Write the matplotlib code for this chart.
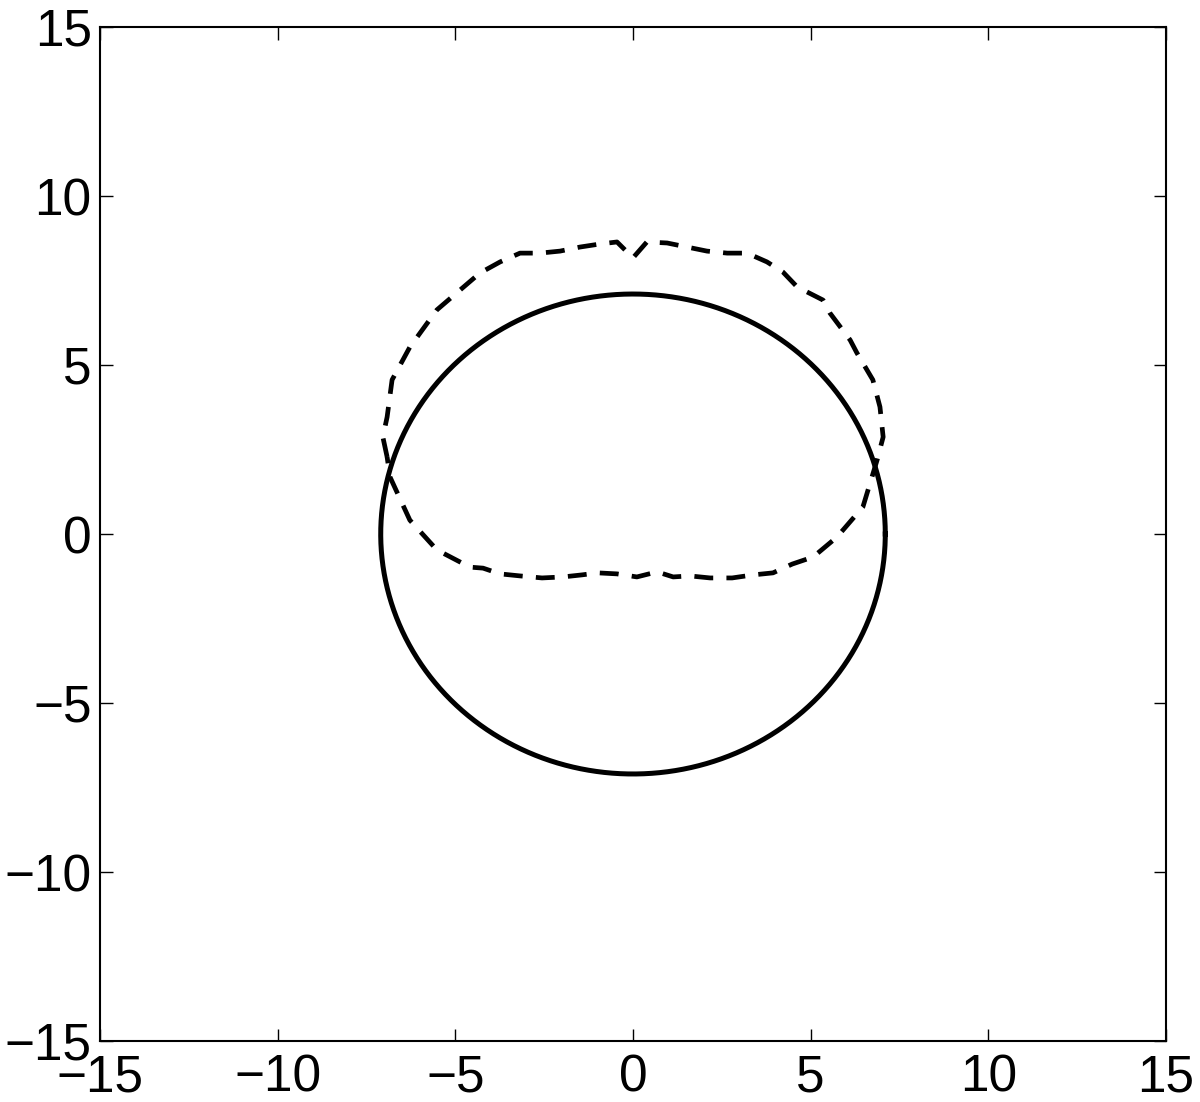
import matplotlib
matplotlib.use("Agg")
import matplotlib.pyplot as plt
import numpy as np

plt.rcParams['font.family'] = ['Liberation Sans', 'DejaVu Sans']

# solid circle
circle_radius = 7.1
circle_center = (0.0, 0.0)

# dashed closed curve
dash_x = [-6.92, -7.04, -6.92, -6.78, -6.28, -5.52, -4.31, -3.74, -3.18, -2.62,
          -2.05, -1.49, -0.93, -0.45, 0.00, 0.39, 0.96, 1.52, 2.08, 2.65,
          3.21, 3.77, 4.22, 4.62, 5.35, 5.54, 6.11, 6.30, 6.75, 6.95,
          7.04, 6.87, 6.47, 5.74, 5.07, 4.48, 3.94, 3.38, 2.79, 2.17,
          1.60, 1.13, 0.68, 0.11, -0.45, -0.99, -1.44, -1.97, -2.56, -3.18,
          -3.74, -4.22, -4.59, -5.52, -6.28, -6.84, -6.92]
dash_y = [2.28, 2.87, 3.46, 4.56, 5.53, 6.63, 7.72, 8.05, 8.31, 8.31,
          8.37, 8.49, 8.58, 8.64, 8.17, 8.64, 8.61, 8.49, 8.37, 8.31,
          8.31, 8.05, 7.75, 7.31, 6.92, 6.54, 5.74, 5.36, 4.56, 3.76,
          2.87, 2.19, 0.80, -0.09, -0.68, -0.89, -1.15, -1.21, -1.30, -1.30,
          -1.24, -1.27, -1.12, -1.27, -1.18, -1.15, -1.21, -1.27, -1.30, -1.24,
          -1.18, -1.01, -0.98, -0.47, 0.41, 1.69, 2.28]

ticks = [-15, -10, -5, 0, 5, 10, 15]

fig = plt.figure(figsize=(12, 11.02), dpi=100)
ax = fig.add_axes([100 / 1200, 61 / 1102, 1066 / 1200, 1014 / 1102])

theta = np.linspace(0, 2 * np.pi, 400)
ax.plot(circle_center[0] + circle_radius * np.cos(theta),
        circle_center[1] + circle_radius * np.sin(theta),
        color='black', lw=3.6, solid_joinstyle='round')
ax.plot(dash_x, dash_y, color='black', lw=3.4, linestyle=(0, (4, 2.8)))

ax.set_xlim(-15, 15)
ax.set_ylim(-15, 15)
ax.set_xticks(ticks)
ax.set_yticks(ticks)
ax.tick_params(direction='in', length=9, width=1, labelsize=37,
               top=True, right=True)
ax.tick_params(axis='x', pad=9)
ax.tick_params(axis='y', pad=6)
for sp in ax.spines.values():
    sp.set_linewidth(1.5)

fig.savefig('out.png', dpi=100)
